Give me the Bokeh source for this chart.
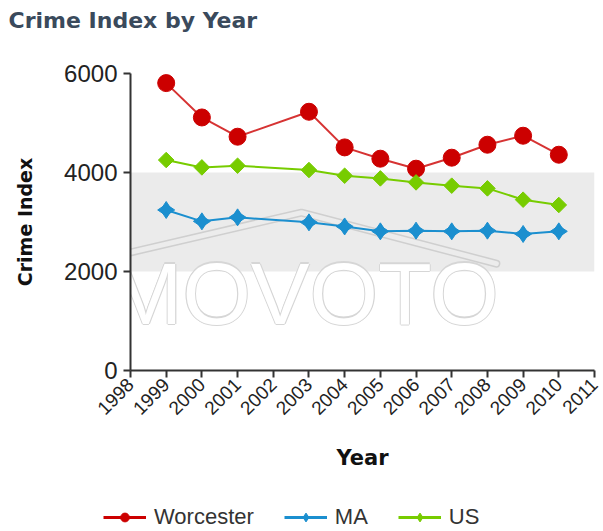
import math
from bokeh.plotting import figure
from bokeh.layouts import column
from bokeh.models import (Range1d, FixedTicker, BoxAnnotation, Label, Legend, LegendItem,
                          ColumnDataSource)
from bokeh.embed import file_html
from bokeh.resources import INLINE

# ---- data ----
years = [1999, 2000, 2001, 2003, 2004, 2005, 2006, 2007, 2008, 2009, 2010]
worcester = [5806, 5112, 4723, 5227, 4507, 4279, 4077, 4299, 4561, 4743, 4359]
ma = [3243, 3013, 3094, 2993, 2910, 2811, 2825, 2811, 2825, 2758, 2811]
us = [4252, 4103, 4137, 4050, 3935, 3881, 3800, 3734, 3679, 3451, 3344]
tick_years = [1998, 1999, 2000, 2001, 2002, 2003, 2004, 2005, 2006, 2007, 2008, 2009, 2010, 2011]
tick_labels = ["1998", "1999", "2000", "2001", "2002", "2003", "2004", "2005",
               "2006", "2007", "2008", "2009", "2010", "2011"]
y_ticks = [0, 2000, 4000, 6000]
band = [2000, 4000]
series_names = ["Worcester", "MA", "US"]
title_text = "Crime Index by Year"

# watermark decoration (roof outline), in data units
roof_x = [1997.25, 2002.79, 2008.25]
roof_y = [2260, 3189, 2159]

src = ColumnDataSource(dict(year=years, worcester=worcester, ma=ma, us=us))

red = "#cc0000"
blue = "#1b8fcf"
green = "#77cc00"


def strip(h):
    f = figure(width=603, height=h, output_backend="svg", toolbar_location=None,
               x_range=Range1d(0, 603), y_range=Range1d(0, h),
               min_border_left=0, min_border_right=0, min_border_top=0, min_border_bottom=0)
    f.axis.visible = False
    f.xgrid.visible = False
    f.ygrid.visible = False
    f.outline_line_color = None
    f.frame_align = False
    return f


# ---- title strip ----
tp = strip(40)
tp.add_layout(Label(x=8, y=20, text=title_text, text_font="DejaVu Sans",
                    text_font_style="bold", text_font_size="22px", text_color="#3a4a5c",
                    text_baseline="middle", text_align="left"))

# ---- chart ----
chart = figure(width=603, height=465, output_backend="svg", toolbar_location=None,
               x_range=Range1d(1998, 2011), y_range=Range1d(0, 6000),
               min_border_left=130, min_border_right=9, min_border_top=33, min_border_bottom=135)
chart.outline_line_color = None
chart.xgrid.visible = False
chart.ygrid.visible = False
chart.frame_align = False

chart.add_layout(BoxAnnotation(bottom=band[0], top=band[1], fill_color="#ebebeb", fill_alpha=1,
                               line_color=None, level="underlay"))

for dx, dy in [(-1.1, 0), (1.1, 0), (0, -1.1), (0, 1.1)]:
    chart.add_layout(Label(x=1997.4, y=565, text="MOVOTO", text_font="Liberation Sans",
                           text_font_size="88px", text_color="#d6d6d6", x_offset=dx, y_offset=dy,
                           level="underlay"))
chart.add_layout(Label(x=1997.4, y=565, text="MOVOTO", text_font="Liberation Sans",
                       text_font_size="88px", text_color="white", level="underlay"))
chart.line(roof_x, roof_y, line_color="#cfcfcf", line_width=8, line_join="round", line_cap="round")
chart.line(roof_x, roof_y, line_color="#ececec", line_width=5, line_join="round", line_cap="round")

chart.line("year", "worcester", source=src, line_color=red, line_width=2, line_alpha=0.8)
chart.scatter("year", "worcester", source=src, marker="circle", size=17, fill_color=red,
              line_color=red)
chart.line("year", "us", source=src, line_color=green, line_width=2)
chart.scatter("year", "us", source=src, marker="square", angle=math.pi / 4, size=11,
              fill_color=green, line_color=green)
chart.line("year", "ma", source=src, line_color=blue, line_width=2)
chart.scatter("year", "ma", source=src, marker="diamond", size=17, fill_color=blue,
              line_color=blue)
chart.scatter("year", "ma", source=src, marker="diamond", angle=math.pi / 2, size=17,
              fill_color=blue, line_color=blue)

for ax in (chart.xaxis[0], chart.yaxis[0]):
    ax.axis_line_color = "#333333"
    ax.axis_line_width = 2
    ax.major_tick_line_color = "#333333"
    ax.major_tick_line_width = 2
    ax.major_tick_out = 7
    ax.major_tick_in = 0
    ax.minor_tick_line_color = None
    ax.major_label_text_font = "Liberation Sans"
    ax.major_label_text_color = "#222222"
    ax.axis_label_text_font = "DejaVu Sans"
    ax.axis_label_text_font_style = "bold"
    ax.axis_label_text_color = "#111111"

chart.xaxis.ticker = FixedTicker(ticks=tick_years)
chart.xaxis.major_label_overrides = {y: t for y, t in zip(tick_years, tick_labels)}
chart.xaxis.major_label_orientation = math.pi / 4
chart.xaxis.major_label_text_font_size = "19px"
chart.xaxis.major_label_standoff = 4
chart.xaxis.axis_label = "Year"
chart.xaxis.axis_label_text_font_size = "21px"
chart.xaxis.axis_label_standoff = 22

chart.yaxis.ticker = FixedTicker(ticks=y_ticks)
chart.yaxis.major_label_text_font_size = "24px"
chart.yaxis.major_label_standoff = 6
chart.yaxis.axis_label = "Crime Index"
chart.yaxis.axis_label_text_font_size = "19px"
chart.yaxis.axis_label_standoff = 25

# ---- legend strip ----
lp = strip(26)
g_w = [lp.line(years, worcester, line_color=red, line_width=3),
       lp.scatter(years, worcester, marker="circle", fill_color=red, line_color=red)]
g_m = [lp.line(years, ma, line_color=blue, line_width=3),
       lp.scatter(years, ma, marker="diamond", fill_color=blue, line_color=blue)]
g_u = [lp.line(years, us, line_color=green, line_width=3),
       lp.scatter(years, us, marker="diamond", fill_color=green, line_color=green)]

legend = Legend(items=[LegendItem(label=series_names[0], renderers=g_w),
                       LegendItem(label=series_names[1], renderers=g_m),
                       LegendItem(label=series_names[2], renderers=g_u)],
                orientation="horizontal", location=(103, 1),
                glyph_width=43, glyph_height=22, label_standoff=8, spacing=30,
                padding=0, margin=0, border_line_color=None, background_fill_alpha=0,
                label_text_font="Liberation Sans", label_text_font_size="22px",
                label_text_color="#333333")
lp.add_layout(legend)

p = column(tp, chart, lp, spacing=0)

open("out.html", "w").write(file_html(p, INLINE))
